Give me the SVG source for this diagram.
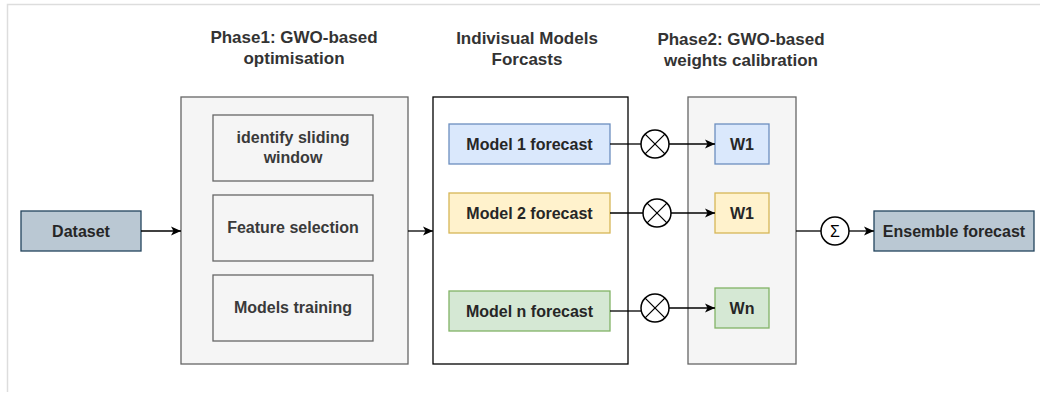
<svg xmlns="http://www.w3.org/2000/svg" width="1040" height="393" viewBox="0 0 1040 393">
<style>
text{font-family:"Liberation Sans",Arial,sans-serif;font-weight:bold;text-anchor:middle}
.title{font-size:17px;fill:#333}
.lbl{font-size:16px;fill:#262626}
.glbl{font-size:16px;fill:#3a3a3a}
.gray{fill:#f5f5f5;stroke:#666;stroke-width:1.3}
.inner{fill:#f5f5f5;stroke:#666;stroke-width:1.3}
.dark{fill:#bac8d3;stroke:#23445d;stroke-width:1.3}
.blue{fill:#dae8fc;stroke:#6c8ebf;stroke-width:1.3}
.yellow{fill:#fff2cc;stroke:#d6b656;stroke-width:1.3}
.green{fill:#d5e8d4;stroke:#82b366;stroke-width:1.3}
.conn{fill:none;stroke:#000;stroke-width:1.3}
.op{fill:#fff;stroke:#000;stroke-width:1.5}
</style>
<defs>
<marker id="arr" markerWidth="12" markerHeight="12" refX="11" refY="6" orient="auto" markerUnits="userSpaceOnUse">
<path d="M1,1.5 L11,6 L1,10.5 L3.5,6 Z" fill="#000"/>
</marker>
</defs>
<rect x="0" y="0" width="1040" height="393" fill="#fff"/>
<path d="M7.5,392 V4.5 H1040" fill="none" stroke="#ddd" stroke-width="1.5"/>

<g id="titles">
<text class="title" x="294" y="43">Phase1: GWO-based</text>
<text class="title" x="294" y="64">optimisation</text>
<text class="title" x="527" y="44">Indivisual Models</text>
<text class="title" x="527" y="65">Forcasts</text>
<text class="title" x="741" y="45">Phase2: GWO-based</text>
<text class="title" x="741" y="66">weights calibration</text>
</g>

<g id="dataset"><rect class="dark" x="21" y="211" width="120" height="40"/><text class="lbl" x="81" y="237">Dataset</text></g>

<g id="phase1"><rect class="gray" x="181" y="97" width="227" height="267"/></g>
<g id="sliding"><rect class="inner" x="213" y="115" width="160" height="66"/><text class="glbl" x="293" y="143">identify sliding</text><text class="glbl" x="293" y="163">window</text></g>
<g id="feature"><rect class="inner" x="213" y="195" width="160" height="66"/><text class="glbl" x="293" y="233">Feature selection</text></g>
<g id="training"><rect class="inner" x="213" y="275" width="160" height="66"/><text class="glbl" x="293" y="313">Models training</text></g>

<g id="individual"><rect x="433" y="97" width="195" height="267" fill="#fff" stroke="#000" stroke-width="1.3"/></g>
<g id="model1"><rect class="blue" x="449" y="124" width="161" height="40"/><text class="lbl" x="529.5" y="149.5">Model 1 forecast</text></g>
<g id="model2"><rect class="yellow" x="449" y="193" width="161" height="40"/><text class="lbl" x="529.5" y="218.5">Model 2 forecast</text></g>
<g id="modeln"><rect class="green" x="449" y="291" width="161" height="40"/><text class="lbl" x="529.5" y="316.5">Model n forecast</text></g>

<g id="phase2"><rect class="gray" x="688" y="97" width="108" height="267"/></g>
<g id="w1a"><rect class="blue" x="715" y="124" width="54" height="40"/><text class="lbl" x="742" y="149.5">W1</text></g>
<g id="w1b"><rect class="yellow" x="715" y="193" width="54" height="40"/><text class="lbl" x="742" y="218.5">W1</text></g>
<g id="wn"><rect class="green" x="715" y="288" width="54" height="40"/><text class="lbl" x="742" y="313.5">Wn</text></g>

<g id="ensemble"><rect class="dark" x="874" y="211" width="160" height="40"/><text class="lbl" x="954" y="237">Ensemble forecast</text></g>

<g id="connectors">
<line class="conn" x1="141" y1="231" x2="181" y2="231" marker-end="url(#arr)"/>
<line class="conn" x1="408" y1="231" x2="433" y2="231" marker-end="url(#arr)"/>
<line class="conn" x1="610" y1="144" x2="641" y2="144"/>
<line class="conn" x1="669" y1="144" x2="715" y2="144" marker-end="url(#arr)"/>
<line class="conn" x1="610" y1="213" x2="643" y2="213"/>
<line class="conn" x1="671" y1="213" x2="715" y2="213" marker-end="url(#arr)"/>
<line class="conn" x1="610" y1="311" x2="641.5" y2="311"/>
<line class="conn" x1="669" y1="308" x2="715" y2="308" marker-end="url(#arr)"/>
<line class="conn" x1="796" y1="231" x2="821" y2="231"/>
<line class="conn" x1="849" y1="231" x2="874" y2="231" marker-end="url(#arr)"/>
</g>

<g id="mult1"><circle class="op" cx="655" cy="144" r="14"/><path class="conn" d="M645.1,134.1 L664.9,153.9 M664.9,134.1 L645.1,153.9"/></g>
<g id="mult2"><circle class="op" cx="657" cy="213" r="14"/><path class="conn" d="M647.1,203.1 L666.9,222.9 M666.9,203.1 L647.1,222.9"/></g>
<g id="multn"><circle class="op" cx="655" cy="308" r="14"/><path class="conn" d="M645.1,298.1 L664.9,317.9 M664.9,298.1 L645.1,317.9"/></g>
<g id="sum"><circle class="op" cx="835" cy="231" r="14"/><text x="835" y="237" style="font-size:16px;font-weight:normal;fill:#000">Σ</text></g>
</svg>
